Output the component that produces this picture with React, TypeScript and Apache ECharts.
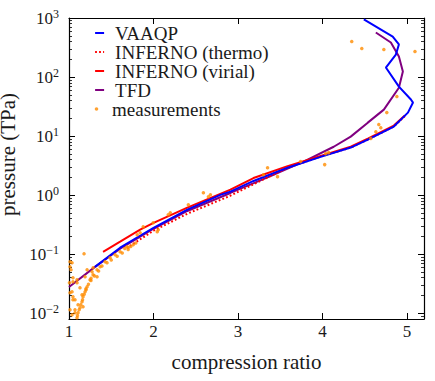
import React, { useEffect, useRef } from 'react';
import * as echarts from 'echarts';

const FONT = 'Liberation Serif';

// VAAQP
const vaaqpX = [1.308, 1.605, 1.8, 2.0, 2.4, 2.79, 2.91, 3.183, 3.586, 3.977, 4.333, 4.535, 4.843, 5.01, 5.07, 5.045, 4.903, 4.749, 4.867, 4.903, 4.83, 4.488];
const vaaqpP = [0.061, 0.129, 0.19, 0.28, 0.568, 1.01, 1.15, 1.74, 2.92, 4.45, 6.4, 8.7, 14.5, 25, 37, 41.6, 69, 145, 240, 356, 485, 944];

// INFERNO (thermo)
const thermoX = [1.72, 2.0, 2.4, 2.91, 3.3, 3.586, 3.977, 4.333, 4.535, 4.843, 4.985];
const thermoP = [0.138, 0.25, 0.485, 0.98, 1.85, 2.9, 4.5, 6.4, 8.7, 14.5, 22.5];

// INFERNO (virial)
const virialX = [1.403, 1.605, 1.842, 2.0, 2.4, 2.91, 3.183, 3.586, 3.977, 4.333, 4.535, 4.843, 4.97];
const virialP = [0.11, 0.163, 0.26, 0.34, 0.614, 1.24, 1.95, 3.1, 4.6, 6.6, 9.1, 15.1, 22.2];

// TFD
const tfdX = [1.0, 1.308, 1.605, 2.0, 2.4, 2.91, 3.384, 3.776, 4.132, 4.333, 4.535, 4.725, 4.903, 4.95, 4.903, 4.808, 4.63];
const tfdP = [0.0279, 0.061, 0.124, 0.27, 0.54, 1.09, 2.1, 3.7, 6.6, 9.8, 16.9, 28.1, 66, 124, 222, 385, 568];

// measurements
const measX = [
  4.345, 4.464, 4.725, 5.093, 4.879, 4.76, 4.665, 4.689, 4.63, 4.571, 4.072, 4.037, 4.025, 3.74, 3.467, 3.349, 3.3,
  2.673, 2.649, 2.59, 2.412, 2.198, 2.174, 2.056, 2.044, 1.996, 1.878, 1.842, 1.807, 1.688,
  1.095, 1.107, 1.13, 1.154, 1.166, 1.19, 1.214, 1.249, 1.285, 1.332, 1.368, 1.427, 1.486, 1.546, 1.605, 1.759, 1.202, 1.261,
  1.178, 1.036, 1.012, 1.012, 1.024, 1.047, 1.047, 1.095, 1.095, 1.13, 1.036, 1.012, 1.047, 1.047, 1.071, 1.071, 1.012, 1.071,
  1.036, 1.107, 1.166, 1.154, 1.19, 1.214, 1.273, 1.285, 1.332, 1.66, 1.7, 1.005,
  1.1, 1.12, 1.14, 1.16, 1.18, 1.2, 1.23, 1.26, 1.3, 1.35, 1.39, 1.45, 1.5, 1.57, 1.63, 1.7, 1.73, 1.79,
];
const measP = [
  400, 304, 293, 270, 46.7, 25, 15.7, 13.9, 11.9, 9.08, 5.25, 5.05, 3.29, 3.7, 2.06, 2.92, 2.22,
  1.02, 0.94, 1.1, 0.69, 0.505, 0.467, 0.26, 0.24, 0.342, 0.292, 0.231, 0.214, 0.134,
  0.0084, 0.0102, 0.0124, 0.0157, 0.019, 0.0231, 0.0281, 0.037, 0.045, 0.0546, 0.0614, 0.0746, 0.0873, 0.098, 0.11, 0.145, 0.025, 0.039,
  0.102, 0.0718, 0.0746, 0.0614, 0.0546, 0.04, 0.0342, 0.037, 0.0329, 0.027, 0.0231, 0.0222, 0.019, 0.0169, 0.0169, 0.0115, 0.0115, 0.0102,
  0.0094, 0.0139, 0.0129, 0.0206, 0.0416, 0.0546, 0.0505, 0.059, 0.0416, 0.125, 0.13, 0.033,
  0.0092, 0.0115, 0.014, 0.017, 0.021, 0.026, 0.031, 0.036, 0.043, 0.052, 0.063, 0.072, 0.08, 0.092, 0.105, 0.12, 0.135, 0.155,
];

const xTicks = [1, 2, 3, 4, 5];
const yExponents = [-2, -1, 0, 1, 2, 3];
const minorMultipliers = [2, 3, 4, 5, 6, 7, 8, 9];
const legendNames = ['VAAQP', 'INFERNO (thermo)', 'INFERNO (virial)', 'TFD', 'measurements'];

const X_MIN = 1;
const X_MAX = 5.2;
const Y_MIN = -2.097;
const Y_MAX = 3;

const toPts = (xs: number[], ps: number[]) => xs.map((x, i) => [x, Math.log10(ps[i])]);

const yMinor: number[] = [];
for (let n = -3; n <= 2; n++) {
  for (const k of minorMultipliers) {
    const v = n + Math.log10(k);
    if (v > Y_MIN && v < Y_MAX) yMinor.push(v);
  }
}

const sup = (n: number) => (n < 0 ? '\u2212' + Math.abs(n) : String(n));

const ROW_H = 19;
const dotIcon =
  'image://data:image/svg+xml;charset=utf-8,' +
  encodeURIComponent(
    `<svg xmlns="http://www.w3.org/2000/svg" width="9" height="${ROW_H}" viewBox="0 0 9 ${ROW_H}"><circle cx="4.5" cy="${ROW_H / 2}" r="1.8" fill="#ff8c00"/></svg>`
  );

export default function App() {
  const ref = useRef<HTMLDivElement>(null);
  useEffect(() => {
    if (!ref.current) return;
    const chart = echarts.init(ref.current, undefined, { renderer: 'svg' });
    const black = '#000';
    const txt = '#1a1a1a';
    const baseX = {
      type: 'value',
      min: X_MIN,
      max: X_MAX,
      splitLine: { show: false },
      axisLine: { show: true, onZero: false, lineStyle: { color: black, width: 1.2 } },
      axisTick: { show: true, inside: true, length: 6, customValues: xTicks, lineStyle: { color: black, width: 1 } },
    };
    const baseY = {
      type: 'value',
      min: Y_MIN,
      max: Y_MAX,
      splitLine: { show: false },
      axisLine: { show: true, onZero: false, lineStyle: { color: black, width: 1.2 } },
      axisTick: { show: true, inside: true, length: 6, customValues: yExponents, lineStyle: { color: black, width: 1 } },
      axisLabel: { show: false },
    };
    const minorY = {
      type: 'value',
      min: Y_MIN,
      max: Y_MAX,
      splitLine: { show: false },
      axisLine: { show: false, onZero: false },
      axisTick: { show: true, inside: true, length: 3, customValues: yMinor, lineStyle: { color: black, width: 0.8 } },
      axisLabel: { show: false },
    };
    const rowCenters = [33, 52, 71, 90, 109];
    const legends = legendNames.map((name, i) => ({
      orient: 'vertical',
      left: 92,
      top: rowCenters[i] - ROW_H / 2,
      padding: 0,
      itemWidth: 9,
      itemHeight: ROW_H,
      itemGap: 0,
      textStyle: { fontFamily: FONT, fontSize: 19, color: txt, lineHeight: ROW_H, padding: [0, 0, 0, 6] },
      data: [
        name === 'measurements'
          ? { name, icon: dotIcon }
          : { name, itemStyle: { opacity: 0 } },
      ],
    }));
    const option: any = {
      animation: false,
      backgroundColor: '#fff',
      textStyle: { fontFamily: FONT },
      grid: { left: 69, right: 11, top: 18, bottom: 62, outerBoundsMode: 'none', containLabel: false },
      xAxis: [
        {
          ...baseX,
          position: 'bottom',
          axisLabel: {
            show: true,
            customValues: xTicks,
            margin: 4,
            fontFamily: FONT,
            fontSize: 17,
            color: txt,
          },
          name: 'compression ratio',
          nameLocation: 'middle',
          nameGap: 32,
          nameTextStyle: { fontFamily: FONT, fontSize: 21, color: txt },
        },
        { ...baseX, position: 'top', axisLabel: { show: false } },
      ],
      yAxis: [
        {
          ...baseY,
          position: 'left',
          axisLabel: {
            show: true,
            customValues: yExponents,
            margin: 10,
            formatter: (v: number) => `{b|10}{s|${sup(Math.round(v))}}`,
            rich: {
              b: { fontFamily: FONT, fontSize: 17, color: txt },
              s: { fontFamily: FONT, fontSize: 12, color: txt, verticalAlign: 'bottom', padding: [0, 0, 8, 0] },
            },
          },
          name: 'pressure (TPa)',
          nameLocation: 'middle',
          nameGap: 45,
          nameTextStyle: { fontFamily: FONT, fontSize: 21, color: txt, padding: [0, 0, 0, 28] },
        },
        { ...minorY, position: 'left' },
        { ...baseY, position: 'right' },
        { ...minorY, position: 'right' },
      ],
      legend: legends,
      series: [
        {
          name: 'VAAQP',
          type: 'line',
          data: toPts(vaaqpX, vaaqpP),
          symbol: 'none',
          z: 4,
          color: '#0000ff',
          lineStyle: { color: '#0000ff', width: 2 },
        },
        {
          name: 'INFERNO (thermo)',
          type: 'line',
          data: toPts(thermoX, thermoP),
          symbol: 'none',
          z: 3,
          color: '#ff0000',
          lineStyle: { color: '#ff0000', width: 2, type: [1.8, 2.2] },
        },
        {
          name: 'INFERNO (virial)',
          type: 'line',
          data: toPts(virialX, virialP),
          symbol: 'none',
          z: 3,
          color: '#ff0000',
          lineStyle: { color: '#ff0000', width: 2 },
        },
        {
          name: 'TFD',
          type: 'line',
          data: toPts(tfdX, tfdP),
          symbol: 'none',
          z: 2,
          color: '#800080',
          lineStyle: { color: '#800080', width: 2 },
        },
        {
          name: 'measurements',
          type: 'scatter',
          data: toPts(measX, measP),
          symbol: 'circle',
          symbolSize: 3.5,
          z: 5,
          color: '#ff8c00',
          itemStyle: { color: '#ff8c00' },
        },
      ],
    };
    chart.setOption(option);
    return () => chart.dispose();
  }, []);
  return <div ref={ref} style={{ width: 435, height: 381, position: 'absolute', left: 0, top: 0 }} />;
}
